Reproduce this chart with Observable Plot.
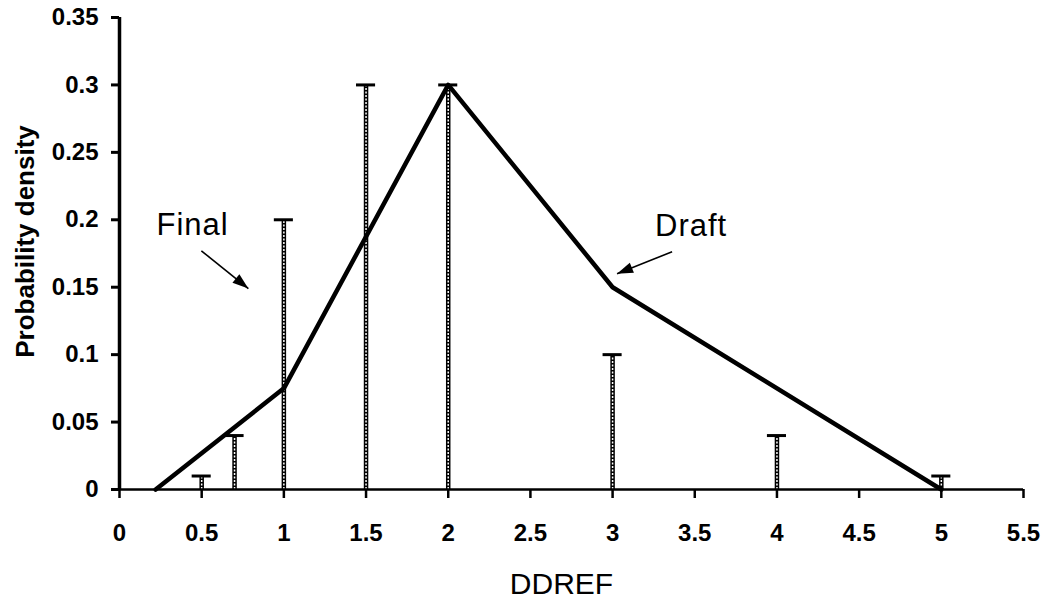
<!DOCTYPE html>
<html>
<head>
<meta charset="utf-8">
<script src="https://cdn.jsdelivr.net/npm/d3@7"></script>
<script src="https://cdn.jsdelivr.net/npm/@observablehq/plot@0.6"></script>
<style>
  html, body { margin: 0; padding: 0; background: #fff; }
</style>
</head>
<body>
<div id="chart"></div>
<script>
// Final distribution (bars with caps)
const finalX = [0.5, 0.7, 1, 1.5, 2, 3, 4, 5];
const finalY = [0.01, 0.04, 0.2, 0.3, 0.3, 0.1, 0.04, 0.01];
// Draft distribution (line)
const draftX = [0.22, 1, 2, 3, 5];
const draftY = [0, 0.075, 0.3, 0.15, 0];
// Axis ticks
const xTicks = [0, 0.5, 1, 1.5, 2, 2.5, 3, 3.5, 4, 4.5, 5, 5.5];
const xTickLabels = ["0", "0.5", "1", "1.5", "2", "2.5", "3", "3.5", "4", "4.5", "5", "5.5"];
const yTicks = [0, 0.05, 0.1, 0.15, 0.2, 0.25, 0.3, 0.35];
const yTickLabels = ["0", "0.05", "0.1", "0.15", "0.2", "0.25", "0.3", "0.35"];
// Annotations
const labelText = ["Final", "Draft"];
const labelX = [0.225, 3.258];
const labelY = [0.196, 0.195];
const arrowX1 = [0.498, 3.362];
const arrowY1 = [0.177, 0.1763];
const arrowX2 = [0.784, 3.027];
const arrowY2 = [0.149, 0.160];
const arrowRotate = [129, 248];

const finalData = finalX.map((x, i) => ({x, y: finalY[i]}));
const draftData = draftX.map((x, i) => ({x, y: draftY[i]}));
const labels = labelText.map((t, i) => ({t, x: labelX[i], y: labelY[i]}));
const arrows = arrowX1.map((x1, i) => ({x1, y1: arrowY1[i], x2: arrowX2[i], y2: arrowY2[i], r: arrowRotate[i]}));

const headSymbol = {
  draw(ctx) {
    ctx.moveTo(0, 0);
    ctx.lineTo(5.5, 16);
    ctx.lineTo(-5.5, 16);
    ctx.closePath();
  }
};

const chart = Plot.plot({
  width: 1043,
  height: 603,
  marginLeft: 119,
  marginRight: 20,
  marginTop: 17,
  marginBottom: 114,
  style: {fontFamily: "'Liberation Sans', Arial, sans-serif", background: "#fff", color: "#000"},
  x: {domain: [0, 5.5]},
  y: {domain: [0, 0.35]},
  marks: [
    // Final bars
    Plot.ruleX(finalData, {x: "x", y1: 0, y2: "y", stroke: "#000", strokeWidth: 4.5}),
    Plot.ruleX(finalData, {x: "x", y1: 0, y2: "y", stroke: "#fff", strokeWidth: 1.5, strokeDasharray: "2,1.5"}),
    Plot.ruleY(finalData, {y: "y", x1: d => d.x - 0.058, x2: d => d.x + 0.058, stroke: "#000", strokeWidth: 3}),
    // Draft line
    Plot.line(draftData, {x: "x", y: "y", stroke: "#000", strokeWidth: 4.5, strokeLinejoin: "round"}),
    // Axes
    Plot.axisY({ticks: yTicks, tickFormat: (d, i) => yTickLabels[i], tickSize: 8, tickPadding: 13, strokeWidth: 3,
      fontSize: 24, fontWeight: "bold", label: null}),
    Plot.axisX({ticks: xTicks, tickFormat: (d, i) => xTickLabels[i], tickSize: 9, tickPadding: 25, strokeWidth: 2.5,
      fontSize: 24, fontWeight: "bold", label: null}),
    Plot.ruleX([0], {stroke: "#000", strokeWidth: 3.5}),
    Plot.ruleY([0], {stroke: "#000", strokeWidth: 2.5}),
    // Axis titles
    Plot.text(["Probability density"], {frameAnchor: "left", textAnchor: "middle", lineAnchor: "middle", rotate: -90, dx: -94, dy: -12, fontSize: 26, fontWeight: "bold", fill: "#000"}),
    Plot.text(["DDREF"], {frameAnchor: "bottom", textAnchor: "middle", lineAnchor: "middle", dx: -10, dy: 95, fontSize: 30, fill: "#000"}),
    // Annotations
    Plot.text(labels, {x: "x", y: "y", text: "t", textAnchor: "start", fontSize: 31, fill: "#000"}),
    Plot.link(arrows, {x1: "x1", y1: "y1", x2: "x2", y2: "y2", stroke: "#000", strokeWidth: 1.6}),
    Plot.dot(arrows, {x: "x2", y: "y2", symbol: headSymbol, rotate: "r", fill: "#000", stroke: "none"})
  ]
});
document.getElementById("chart").appendChild(chart);
chart.querySelectorAll("text").forEach(t => { if (t.textContent === "Final" || t.textContent === "Draft") t.style.letterSpacing = "1px"; });
</script>
</body>
</html>
